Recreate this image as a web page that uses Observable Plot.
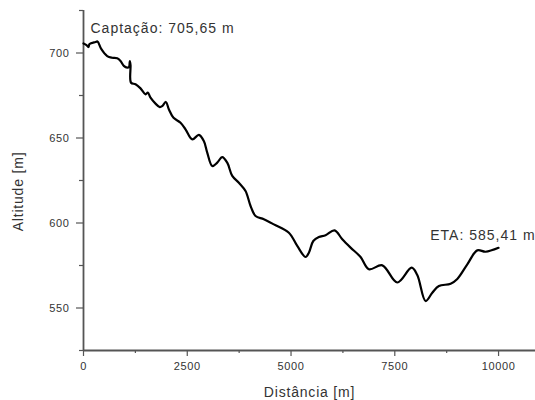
<!DOCTYPE html>
<html><head><meta charset="utf-8">
<script src="https://cdn.jsdelivr.net/npm/d3@7"></script>
<script src="https://cdn.jsdelivr.net/npm/@observablehq/plot@0.6"></script>
<style>
body{margin:0;background:#fff}
#chart svg{font-family:"Liberation Sans",Arial,sans-serif}
</style>
</head><body><div id="chart"></div>
<script>
// Distance along the profile [m]
const distance = [0,72,120,145,289,337,427,571,692,812,892,971,1053,1097,1116,1133,1145,1253,1374,1494,1550,1615,1735,1839,1897,1984,2056,2169,2338,2458,2620,2779,2899,2981,3102,3222,3343,3463,3584,3743,3904,4025,4145,4345,4586,4948,5150,5350,5430,5536,5671,5832,6049,6235,6435,6676,6876,7199,7560,7905,8042,8242,8404,8563,8845,9006,9247,9488,9688,10000];
// Altitude [m]
const altitude = [705.65,704.7,703.5,705.3,706.5,706.8,702.4,698.2,697.2,696.9,695.3,692.4,691.4,691.8,695.3,692.9,682.5,681.6,679.2,675.7,676.7,673.7,670.2,668.2,668.8,671.2,666.9,661.9,659.0,655.1,649.2,651.8,648.2,641.4,633.5,635.5,638.8,635.5,627.7,623.7,618.8,610.0,604.1,602.2,599.2,594.3,586.5,580.0,582.5,589.4,591.8,592.8,595.7,590.4,585.5,580.0,572.8,575.1,565.0,573.7,569.4,554.1,559.0,562.9,564.3,567.1,575.7,583.9,583.1,585.41];

const xTicks = [0, 2500, 5000, 7500, 10000];
const xMinorTicks = [1250, 3750, 6250, 8750];
const yTicks = [550, 600, 650, 700];
const yMinorTicks = [525, 575, 625, 675, 725];
const xLabel = "Distância [m]";
const yLabel = "Altitude [m]";
const startLabel = "Captação: 705,65 m";
const endLabel = "ETA: 585,41 m";

const data = distance.map((d, i) => ({distance: d, altitude: altitude[i]}));
const first = [data[0]];
const last = [data[data.length - 1]];

const axisColor = "#555";
const textColor = "#333";

const chart = Plot.plot({
  width: 535,
  height: 400,
  marginLeft: 83,
  marginRight: 0,
  marginTop: 10,
  marginBottom: 50,
  x: {domain: [0, 10890]},
  y: {domain: [525, 725]},
  style: {fontFamily: '"Liberation Sans", Arial, sans-serif', background: "#fff"},
  marks: [
    Plot.ruleX([0], {stroke: axisColor, strokeWidth: 1.8}),
    Plot.ruleY([525], {stroke: axisColor, strokeWidth: 1.8}),
    Plot.axisX({ticks: xTicks, tickSize: 6, tickPadding: 6, stroke: axisColor, strokeWidth: 1.2,
      tickFormat: d => String(d), fontSize: 11, fill: textColor, label: null}),
    Plot.axisX({ticks: xMinorTicks, tickSize: 3, stroke: axisColor, strokeWidth: 1.2, text: null, label: null}),
    Plot.axisY({ticks: yTicks, tickSize: 7, tickPadding: 7, stroke: axisColor, strokeWidth: 1.2,
      tickFormat: d => String(d), fontSize: 11, fill: textColor, label: null}),
    Plot.axisY({ticks: yMinorTicks, tickSize: 4, stroke: axisColor, strokeWidth: 1.2, text: null, label: null}),
    Plot.text([xLabel], {frameAnchor: "bottom", dy: 42, lineAnchor: "middle", textAnchor: "middle",
      fontSize: 14, fill: textColor}),
    Plot.text([yLabel], {frameAnchor: "left", dx: -65, dy: 11, rotate: -90, lineAnchor: "middle", textAnchor: "middle",
      fontSize: 14, fill: textColor}),
    Plot.line(data, {x: "distance", y: "altitude", stroke: "#000", strokeWidth: 2.2, curve: "catmull-rom"}),
    Plot.text(first, {x: "distance", y: "altitude", text: () => startLabel, textAnchor: "start", dx: 7, dy: -15,
      fontSize: 14, fill: textColor}),
    Plot.text(last, {x: "distance", y: "altitude", text: () => endLabel, textAnchor: "end", dx: 37, dy: -12,
      fontSize: 14, fill: textColor})
  ]
});
d3.select(chart).selectAll("text").each(function() {
  const t = this.textContent;
  let ls = "0.6px";
  if (t === xLabel || t === yLabel) ls = "0.8px";
  else if (t === startLabel || t === endLabel) ls = "1px";
  this.style.letterSpacing = ls;
});
document.getElementById("chart").appendChild(chart);
</script>
</body></html>
